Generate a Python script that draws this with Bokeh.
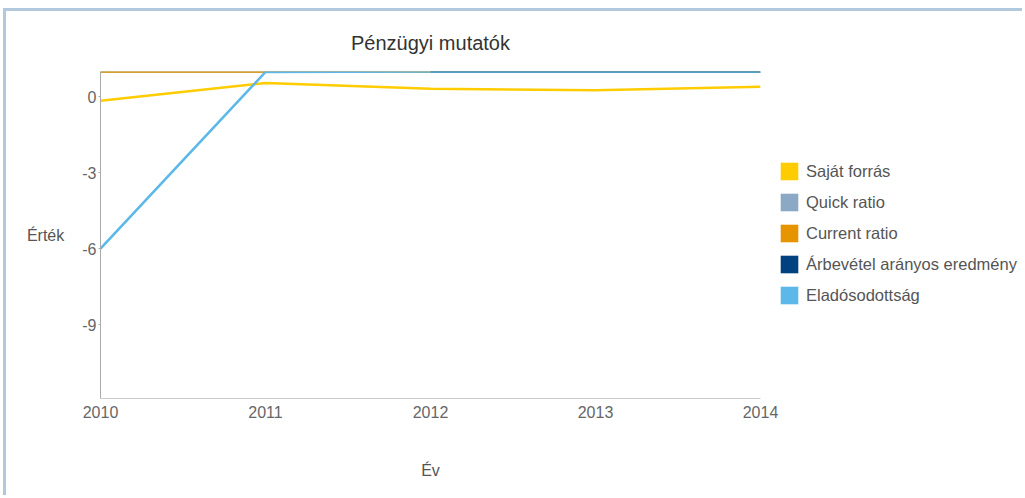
from bokeh.plotting import figure
from bokeh.models import Range1d, FixedTicker, Legend, LegendItem
from bokeh.layouts import row
from bokeh.embed import file_html
from bokeh.resources import INLINE

years = [2010, 2011, 2012, 2013, 2014]
sajat_forras = [-0.16, 0.55, 0.32, 0.26, 0.40]
quick_ratio = [1.0, 1.0, 1.0, 1.0, 1.0]
current_ratio = [1.0, 1.0, 1.0, 1.0, 1.0]
arbevetel = [float("nan"), float("nan"), 1.0, 1.0, 1.0]
eladosodottsag = [-6.0, 0.98, 1.0, 1.0, 1.0]

series_names = ["Saját forrás", "Quick ratio", "Current ratio",
                "Árbevétel arányos eredmény", "Eladósodottság"]
series_colors = ["#FFCC00", "#8BA8C4", "#E69500", "#00427F", "#5BB8E8"]
series_values = [sajat_forras, quick_ratio, current_ratio, arbevetel, eladosodottsag]
y_ticks = [-9, -6, -3, 0]
y_tick_labels = ["-9", "-6", "-3", "0"]

FONT = "Liberation Sans"
Y_RANGE = (-11.92, 1.0)

p = figure(frame_width=660, frame_height=327, output_backend="svg", toolbar_location=None,
           x_range=Range1d(2010, 2014), y_range=Range1d(*Y_RANGE),
           min_border_left=94, min_border_right=18, min_border_top=60,
           min_border_bottom=97)
p.outline_line_color = None
p.xgrid.visible = False
p.ygrid.visible = False
p.background_fill_color = "white"
p.border_fill_color = "white"

p.title.text = "Pénzügyi mutatók"
p.title.align = "center"
p.title.text_font = FONT
p.title.text_font_size = "20px"
p.title.text_font_style = "normal"
p.title.text_color = "#333333"
p.title.standoff = 36

# axes
p.xaxis.ticker = FixedTicker(ticks=years)
p.xaxis.major_tick_line_color = None
p.xaxis.minor_tick_line_color = None
p.xaxis.axis_line_color = "#cccccc"
p.xaxis.major_label_text_font = FONT
p.xaxis.major_label_text_font_size = "16px"
p.xaxis.major_label_text_color = "#666666"
p.xaxis.major_label_standoff = 1
p.xaxis.axis_label = "Év"
p.xaxis.axis_label_text_font = FONT
p.xaxis.axis_label_text_font_size = "16px"
p.xaxis.axis_label_text_font_style = "normal"
p.xaxis.axis_label_text_color = "#555555"
p.xaxis.axis_label_standoff = 41

p.yaxis.ticker = FixedTicker(ticks=y_ticks)
p.yaxis.major_label_overrides = {t: s for t, s in zip(y_ticks, y_tick_labels)}
p.yaxis.major_tick_out = 2
p.yaxis.major_tick_in = 0
p.yaxis.major_tick_line_color = "#aaaaaa"
p.yaxis.minor_tick_line_color = None
p.yaxis.axis_line_color = "#aaaaaa"
p.yaxis.major_label_text_font = FONT
p.yaxis.major_label_text_font_size = "16px"
p.yaxis.major_label_text_color = "#666666"
p.yaxis.major_label_standoff = 2
p.yaxis.axis_label = "Érték"
p.yaxis.axis_label_orientation = "horizontal"
p.yaxis.axis_label_text_font = FONT
p.yaxis.axis_label_text_font_size = "16px"
p.yaxis.axis_label_text_font_style = "normal"
p.yaxis.axis_label_text_color = "#555555"
p.yaxis.axis_label_standoff = 15

for name, color, vals in zip(series_names, series_colors, series_values):
    p.line(years, vals, line_color=color, line_width=2.5)

# legend panel: a bare figure holding only the legend
lg = figure(width=244, height=484, output_backend="svg", toolbar_location=None,
            x_axis_type=None, y_axis_type=None,
            x_range=Range1d(2010, 2014), y_range=Range1d(*Y_RANGE),
            min_border=0)
lg.outline_line_color = None
lg.xgrid.visible = False
lg.ygrid.visible = False
lg.border_fill_color = "white"
lg.background_fill_color = "white"

items = []
for name, color, vals in zip(series_names, series_colors, series_values):
    # degenerate (zero-size) quads serve only as square legend swatches
    proxy = lg.quad(left=years, right=years, top=vals, bottom=vals,
                    fill_color=color, line_color=None)
    items.append(LegendItem(label=name, renderers=[proxy]))

legend = Legend(items=items, location=(0, 92), orientation="vertical",
                glyph_width=22, glyph_height=22, spacing=9, padding=0, margin=0,
                label_standoff=6, border_line_color=None, background_fill_alpha=0,
                label_text_font=FONT, label_text_font_size="16.5px",
                label_text_color="#555555", label_height=22)
lg.add_layout(legend)

layout = row(p, lg, spacing=0,
             styles={"border-top": "3px solid #b2c8dd", "border-left": "3px solid #b2c8dd",
                     "margin-top": "8px", "margin-left": "3px"})

open("out.html", "w").write(file_html(layout, INLINE))
